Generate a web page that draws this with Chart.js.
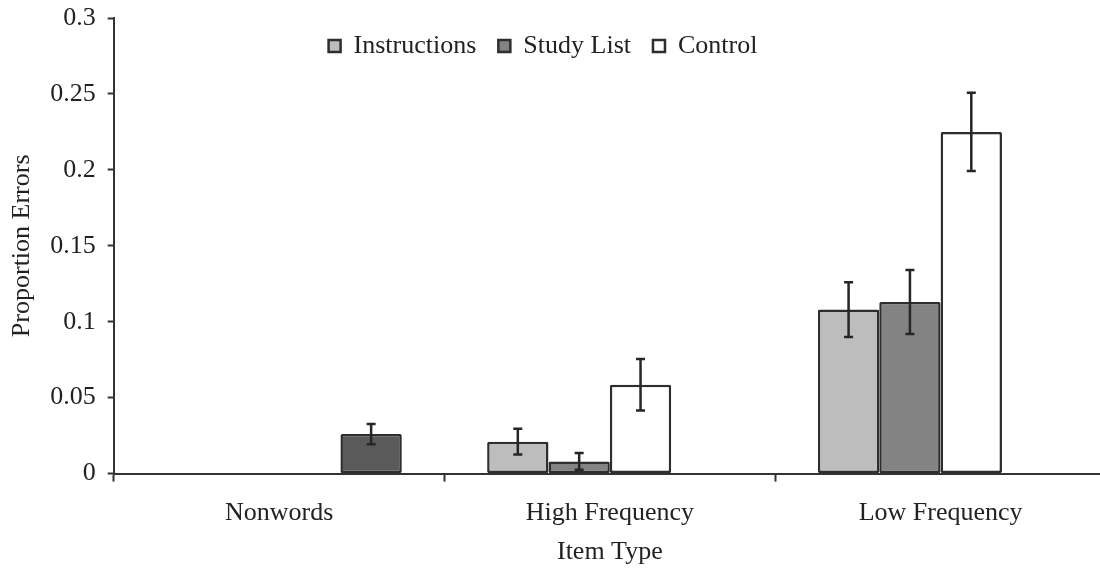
<!DOCTYPE html>
<html>
<head>
<meta charset="utf-8">
<script src="https://cdn.jsdelivr.net/npm/chart.js@4"></script>
<style>
  html, body { margin: 0; padding: 0; background: #fff; overflow: hidden; }
  #wrap { width: 1107px; height: 570px; }
</style>
</head>
<body>
<div id="wrap"><canvas id="c" width="1107" height="570"></canvas></div>
<script>
// Item types on the x axis
const categories = ['Nonwords', 'High Frequency', 'Low Frequency'];

// Mean proportion of errors per condition, with error bar half-lengths
const instructions    = [null, 0.021, 0.108];
const instructionsErr = [null, 0.0085, 0.018];
const studyList       = [null, 0.008, 0.113];
const studyListErr    = [null, 0.0055, 0.021];
const control         = [null, 0.0585, 0.225];
const controlErr      = [null, 0.017, 0.0257];
const nonwordList     = [0.026, null, null];
const nonwordListErr  = [0.0066, null, null];

// Y axis tick labels
const yTickLabels = ['0', '0.05', '0.1', '0.15', '0.2', '0.25', '0.3'];

const INK = '#222';
const EDGE = '#2e2e2e';

Chart.defaults.font.family = '"Liberation Serif", "Times New Roman", serif';
Chart.defaults.font.size = 26;
Chart.defaults.color = INK;

// Vertical error bars with caps, drawn on top of each bar
const errorBars = {
  id: 'errorBars',
  afterDatasetsDraw(chart) {
    const ctx = chart.ctx;
    const y = chart.scales.y;
    ctx.save();
    ctx.strokeStyle = '#262626';
    ctx.lineWidth = 2.5;
    chart.data.datasets.forEach((ds, i) => {
      const meta = chart.getDatasetMeta(i);
      ds.data.forEach((v, j) => {
        const e = ds.errors[j];
        if (v == null || e == null) return;
        const bar = meta.data[j];
        const x = bar.x;
        const yt = y.getPixelForValue(v + e);
        const yb = y.getPixelForValue(v - e);
        ctx.beginPath();
        ctx.moveTo(x, yt); ctx.lineTo(x, yb);
        ctx.moveTo(x - 4.5, yt); ctx.lineTo(x + 4.5, yt);
        ctx.moveTo(x - 4.5, yb); ctx.lineTo(x + 4.5, yb);
        ctx.stroke();
      });
    });
    ctx.restore();
  }
};

// Legend sits inside the plot, near the top
const legendInside = {
  id: 'legendInside',
  afterLayout(chart) {
    const lg = chart.legend;
    if (!lg) return;
    lg.top = 11;
    lg.bottom = lg.top + 70;
    lg.left -= 10;
    lg.right -= 10;
  }
};

function barSet(label, data, errors, color) {
  return {
    label, data, errors,
    backgroundColor: color,
    borderColor: EDGE,
    borderWidth: 2.5,
    borderSkipped: false,
    borderRadius: 1.5
  };
}

new Chart(document.getElementById('c'), {
  type: 'bar',
  data: {
    labels: categories,
    datasets: [
      barSet('Instructions', instructions, instructionsErr, '#bdbdbd'),
      barSet('Study List', studyList, studyListErr, '#838383'),
      barSet('Control', control, controlErr, '#ffffff'),
      barSet('Study List (nonwords)', nonwordList, nonwordListErr, '#5a5a5a')
    ]
  },
  options: {
    responsive: false,
    animation: false,
    categoryPercentage: 0.742,
    barPercentage: 1,
    layout: { padding: { top: 17, right: 1, bottom: 0, left: 0 } },
    plugins: {
      tooltip: { enabled: false },
      legend: {
        position: 'top',
        maxHeight: 1,
        labels: {
          boxWidth: 12,
          boxHeight: 12,
          padding: 22,
          color: INK,
          font: { size: 26 },
          filter: (item) => item.datasetIndex < 3
        }
      }
    },
    scales: {
      x: {
        offset: true,
        grid: {
          offset: true,
          drawOnChartArea: false,
          drawTicks: true,
          tickLength: 8,
          tickWidth: 2,
          tickColor: '#333'
        },
        border: { color: '#333', width: 2 },
        ticks: { padding: 16, maxRotation: 0, autoSkip: false, color: INK, font: { size: 26 } },
        title: { display: true, text: 'Item Type', color: INK, font: { size: 26 }, padding: { top: -8, bottom: 2 } }
      },
      y: {
        min: 0,
        max: 0.3,
        afterBuildTicks: (s) => { s.ticks = yTickLabels.map(t => ({ value: parseFloat(t) })); },
        grid: {
          drawOnChartArea: false,
          tickLength: 6,
          tickWidth: 2,
          tickColor: '#333'
        },
        border: { color: '#333', width: 2 },
        ticks: {
          padding: 12,
          color: INK,
          font: { size: 26, lineHeight: 0.4 },
          callback: (v, i) => yTickLabels[i]
        },
        title: { display: true, text: 'Proportion Errors', color: INK, font: { size: 26 }, padding: { top: 7, bottom: 0 } }
      }
    }
  },
  plugins: [errorBars, legendInside]
});
</script>
</body>
</html>
